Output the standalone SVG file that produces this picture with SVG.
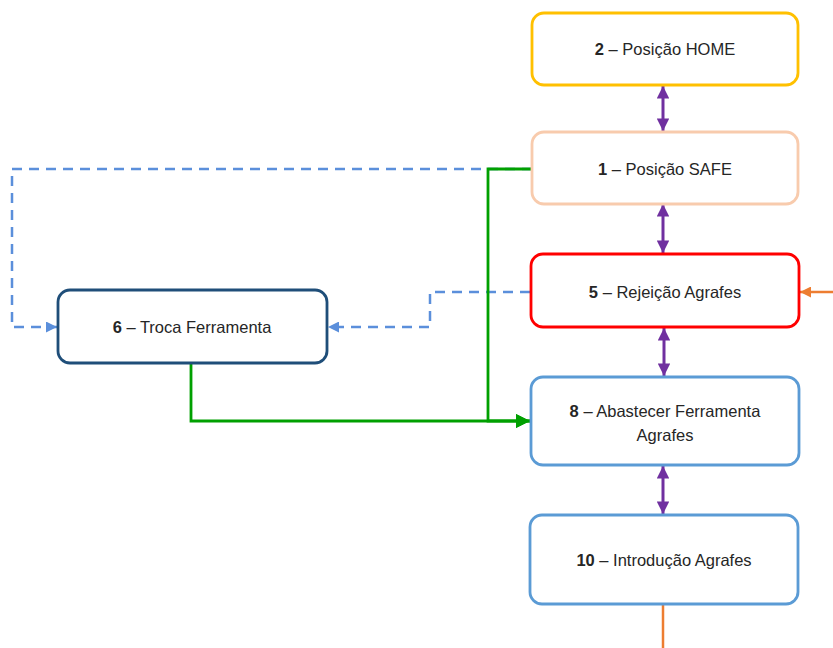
<svg xmlns="http://www.w3.org/2000/svg" width="833" height="648" viewBox="0 0 833 648">
<style>
.box{fill:#fff;stroke-width:2.8}
.t{font-family:"Liberation Sans",Arial,sans-serif;font-size:16.5px;fill:#262626;text-anchor:middle}
.b{font-weight:bold}
.pur{stroke:#7030A0;stroke-width:3;fill:none}
.grn{stroke:#00A000;stroke-width:2.8;fill:none}
.dsh{stroke:#5B8FDB;stroke-width:2.5;fill:none;stroke-dasharray:10 7}
.org{stroke:#ED7D31;stroke-width:2.5;fill:none}
</style>
<defs>
<marker id="mp" viewBox="0 0 10 10" refX="10" refY="5" markerWidth="4.2" markerHeight="4.2" orient="auto-start-reverse" markerUnits="strokeWidth"><path d="M0,0 L10,5 L0,10 Z" fill="#7030A0"/></marker>
<marker id="mg" viewBox="0 0 10 10" refX="10" refY="5" markerWidth="5" markerHeight="5" orient="auto" markerUnits="strokeWidth"><path d="M0,0 L10,5 L0,10 Z" fill="#00A000"/></marker>
<marker id="mb" viewBox="0 0 10 10" refX="10" refY="5" markerWidth="4.4" markerHeight="4.4" orient="auto" markerUnits="strokeWidth"><path d="M0,0 L10,5 L0,10 Z" fill="#5B8FDB"/></marker>
<marker id="mo" viewBox="0 0 10 10" refX="10" refY="5" markerWidth="4.4" markerHeight="4.4" orient="auto" markerUnits="strokeWidth"><path d="M0,0 L10,5 L0,10 Z" fill="#ED7D31"/></marker>
</defs>
<rect width="833" height="648" fill="#fff"/>
<g id="connectors">
<line class="pur" x1="663" y1="86" x2="663" y2="131" marker-start="url(#mp)" marker-end="url(#mp)"/>
<line class="pur" x1="663" y1="204" x2="663" y2="253" marker-start="url(#mp)" marker-end="url(#mp)"/>
<line class="pur" x1="664" y1="328" x2="664" y2="376" marker-start="url(#mp)" marker-end="url(#mp)"/>
<line class="pur" x1="663" y1="466" x2="663" y2="514" marker-start="url(#mp)" marker-end="url(#mp)"/>
<polyline class="dsh" points="532,169 12,169 12,327 57,327" marker-end="url(#mb)"/>
<polyline class="dsh" points="530,292 430,292 430,327 328,327" marker-end="url(#mb)"/>
<polyline class="grn" points="532,169 488,169 488,421 530,421" marker-end="url(#mg)"/>
<polyline class="grn" points="191,363 191,421 530,421" marker-end="url(#mg)"/>
<line class="org" x1="833" y1="292" x2="800" y2="292" marker-end="url(#mo)"/>
<line class="org" x1="663" y1="605" x2="663" y2="648"/>
</g>
<g id="node2"><rect class="box" x="532" y="13" width="266" height="72" rx="12" stroke="#FFC000"/><text class="t" x="665" y="55"><tspan class="b">2</tspan> – Posição HOME</text></g>
<g id="node1"><rect class="box" x="532" y="132" width="266" height="72" rx="12" stroke="#F8CBAD"/><text class="t" x="665" y="175"><tspan class="b">1</tspan> – Posição SAFE</text></g>
<g id="node5"><rect class="box" x="531" y="254" width="268" height="73" rx="12" stroke="#FF0000"/><text class="t" x="665" y="298"><tspan class="b">5</tspan> – Rejeição Agrafes</text></g>
<g id="node8"><rect class="box" x="531" y="377" width="268" height="88" rx="12" stroke="#5B9BD5"/><text class="t" x="665" y="417"><tspan class="b">8</tspan> – Abastecer Ferramenta</text><text class="t" x="665" y="441">Agrafes</text></g>
<g id="node10"><rect class="box" x="530" y="515" width="268" height="89" rx="12" stroke="#5B9BD5"/><text class="t" x="664" y="566"><tspan class="b">10</tspan> – Introdução Agrafes</text></g>
<g id="node6"><rect class="box" x="58" y="290" width="269" height="73" rx="12" stroke="#1F4E79"/><text class="t" x="192" y="333"><tspan class="b">6</tspan> – Troca Ferramenta</text></g>
</svg>
